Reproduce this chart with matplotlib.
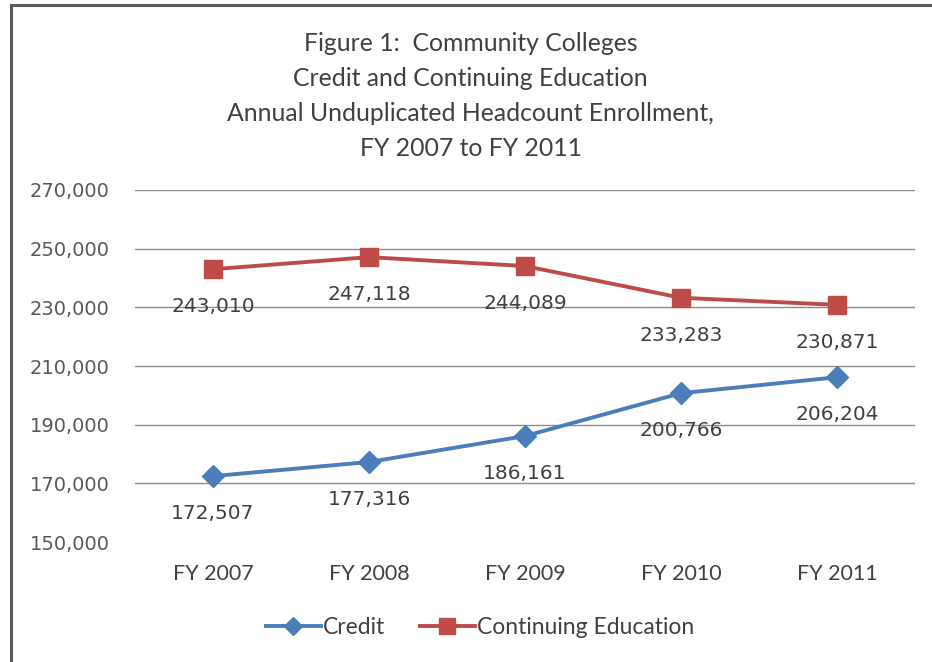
import matplotlib.pyplot as plt
from matplotlib.patches import Rectangle
from matplotlib.ticker import FuncFormatter

years = ["FY 2007", "FY 2008", "FY 2009", "FY 2010", "FY 2011"]
credit = [172507, 177316, 186161, 200766, 206204]
continuing = [243010, 247118, 244089, 233283, 230871]
yticks = [150000, 170000, 190000, 210000, 230000, 250000, 270000]

narrow = ["Lato", "DejaVu Sans"]
blue = "#4a7ebb"
red = "#be4b48"

fig = plt.figure(figsize=(9.32, 6.62), dpi=100)
ax = fig.add_axes([0.1448, 0.181, 0.837, 0.532])

x = range(len(years))
ax.plot(x, credit, color=blue, lw=2.8, marker="D", ms=11, label="Credit")
ax.plot(x, continuing, color=red, lw=2.8, marker="s", ms=13,
        label="Continuing Education")

# value labels under every point
for i in x:
    for v in (credit[i], continuing[i]):
        ax.annotate(f"{v:,}", (i, v), xytext=(0, -27), textcoords="offset points",
                    ha="center", va="center", fontsize=14.5, color="#404040",
                    fontfamily="DejaVu Sans")

ax.set_xlim(-0.5, len(years) - 0.5)
ax.set_ylim(yticks[0], yticks[-1])
ax.set_yticks(yticks)
ax.yaxis.set_major_formatter(FuncFormatter(lambda v, p: f"{int(v):,}"))
ax.set_xticks(list(x))
ax.set_xticklabels(years, fontfamily=narrow, fontsize=15.5, color="#404040")
ax.tick_params(axis="y", length=0, pad=18, labelsize=14, labelcolor="#595959")
ax.tick_params(axis="x", length=0, pad=16)
for s in ax.spines.values():
    s.set_visible(False)
ax.grid(axis="y", color="#8c8c8c", lw=1)
ax.yaxis.get_gridlines()[0].set_visible(False)
ax.set_axisbelow(True)

fig.text(0.505, 0.855, "Figure 1:  Community Colleges\nCredit and Continuing Education\n"
         "Annual Unduplicated Headcount Enrollment,\nFY 2007 to FY 2011",
         ha="center", va="center", fontsize=17.8, color="#404040", fontfamily=narrow,
         linespacing=1.62)

leg = fig.legend(loc="center", bbox_to_anchor=(0.515, 0.052), ncol=2, frameon=False,
                 prop={"family": narrow, "size": 16.5}, handlelength=2.4,
                 handletextpad=0.1, columnspacing=1.5, labelcolor="#404040",
                 markerscale=0.85)

# frame around the chart
fig.patches.append(Rectangle((11 / 932, -0.05), 1.2, 1 - 5 / 662 + 0.05,
                             transform=fig.transFigure, fill=False,
                             edgecolor="#5a5a5a", lw=2.2))

fig.savefig("out.png", dpi=100)
